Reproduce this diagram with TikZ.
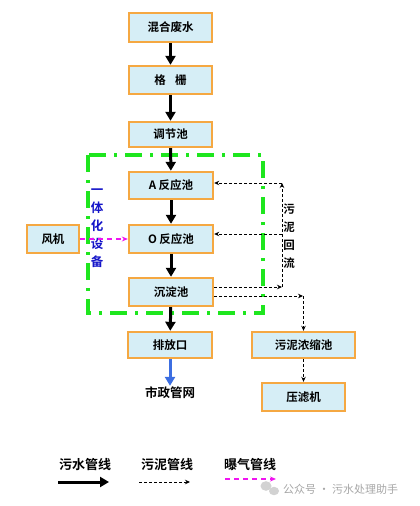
\documentclass[tikz,border=0pt]{standalone}
\usepackage{fontspec}
\setmainfont{Noto Sans CJK SC}[BoldFont={Noto Sans CJK SC Bold}]
\usetikzlibrary{arrows.meta}
\definecolor{boxfill}{RGB}{214,238,246}
\definecolor{boxedge}{RGB}{245,168,66}
\definecolor{frame}{RGB}{30,230,30}
\definecolor{airc}{RGB}{240,20,240}
\definecolor{outc}{RGB}{60,110,225}
\definecolor{vblue}{RGB}{20,20,200}
\begin{document}
\begin{tikzpicture}[x=1pt,y=-1pt,
  proc/.style={draw=boxedge, line width=2.4pt, fill=boxfill, inner sep=0pt,
    font=\bfseries\fontsize{11.5}{12}\selectfont},
  flow/.style={line width=3pt, -{Triangle[length=9pt,width=10pt]}},
  outflow/.style={draw=outc, line width=3pt, -{Triangle[length=9pt,width=10pt]}},
  sludge/.style={line width=0.8pt, dash pattern=on 3pt off 2pt, -{Stealth[length=5pt,width=4.5pt]}},
  air/.style={draw=airc, line width=1.3pt, dash pattern=on 5pt off 4pt, -{Stealth[length=6pt,width=5pt]}},
  vtext/.style={font=\bfseries\fontsize{12.5}{18}\selectfont, align=center, inner sep=0pt},
  legtext/.style={font=\bfseries\fontsize{13}{14}\selectfont, inner sep=0pt}
]
\useasboundingbox (0,0) rectangle (420,506);

% green frame
\draw[frame, line width=3.5pt, dash pattern=on 17pt off 8pt on 3pt off 8pt]
  (88,155) rectangle (263,313);

% boxes
\node[proc, minimum width=83pt, minimum height=29pt] (mix) at (170.5,27.5) {混合废水};
\node[proc, minimum width=83pt, minimum height=28pt] (grid) at (170.5,80) {格\hspace{0.8em}栅};
\node[proc, minimum width=83pt, minimum height=25pt] (tiao) at (170.5,134.5) {调节池};
\node[proc, minimum width=84pt, minimum height=27pt] (A) at (171,185.5) {A 反应池};
\node[proc, minimum width=84pt, minimum height=28pt] (O) at (171,239) {O 反应池};
\node[proc, minimum width=84pt, minimum height=28pt] (chen) at (171,292) {沉淀池};
\node[proc, minimum width=84pt, minimum height=26pt] (pai) at (170,345) {排放口};
\node[proc, minimum width=103pt, minimum height=26pt] (nong) at (303.5,345) {污泥浓缩池};
\node[proc, minimum width=83pt, minimum height=28pt] (ya) at (303.5,397) {压滤机};
\node[proc, minimum width=52pt, minimum height=28pt] (fan) at (53,239) {风机};
\node[font=\bfseries\fontsize{12.5}{13}\selectfont, inner sep=1pt] (shi) at (170,393) {市政管网};

% vertical texts
\node[vtext, text=vblue] (yt) at (97,228) {一\\体\\化\\设\\备};
\node[vtext, font=\bfseries\fontsize{11.5}{18}\selectfont] (hl) at (289,236) {污\\泥\\回\\流};

% main flow
\draw[flow] (mix) -- (grid);
\draw[flow] (grid) -- (tiao);
\draw[flow] (tiao) -- (A);
\draw[flow] (A) -- (O);
\draw[flow] (O) -- (chen);
\draw[flow] (chen) -- (pai);
\draw[outflow] (pai) -- (shi);

% aeration
\draw[air] (fan) -- (O);

% sludge return
\coordinate (r1) at (282,183);
\coordinate (r2) at (282,234);
\coordinate (r3) at (282,287);
\coordinate (c1) at (303.5,296);
\draw[sludge] (r3 -| chen.east) -- (r3);
\draw[sludge] (r3) -- (r1);
\draw[sludge] (r1) -- (r1 -| A.east);
\draw[sludge] (r2) -- (r2 -| O.east);
\draw[sludge] (c1 -| chen.east) -- ([xshift=-0.5pt]c1);
\draw[sludge] (c1) -- (nong);
\draw[sludge] (nong) -- (ya);

% legend
\node[legtext] (lg1) at (85,465) {污水管线};
\node[legtext] (lg2) at (167,465) {污泥管线};
\node[legtext] (lg3) at (250,465) {曝气管线};
\coordinate (l1a) at (58,482); \coordinate (l1b) at (109,482);
\coordinate (l2a) at (139,482); \coordinate (l2b) at (190,482);
\coordinate (l3a) at (225,479); \coordinate (l3b) at (276,479);
\draw[flow] (l1a) -- (l1b);
\draw[sludge] (l2a) -- (l2b);
\draw[air] (l3a) -- (l3b);

% watermark
\fill[gray!35] (266,486) ellipse (5.5pt and 4.8pt);
\fill[gray!35] (274,491) ellipse (5pt and 4.2pt);
\node[text=gray!70, font=\fontsize{11}{12}\selectfont, inner sep=0pt, anchor=west] (wm) at (283,489) {公众号 · 污水处理助手};
\end{tikzpicture}
\end{document}
